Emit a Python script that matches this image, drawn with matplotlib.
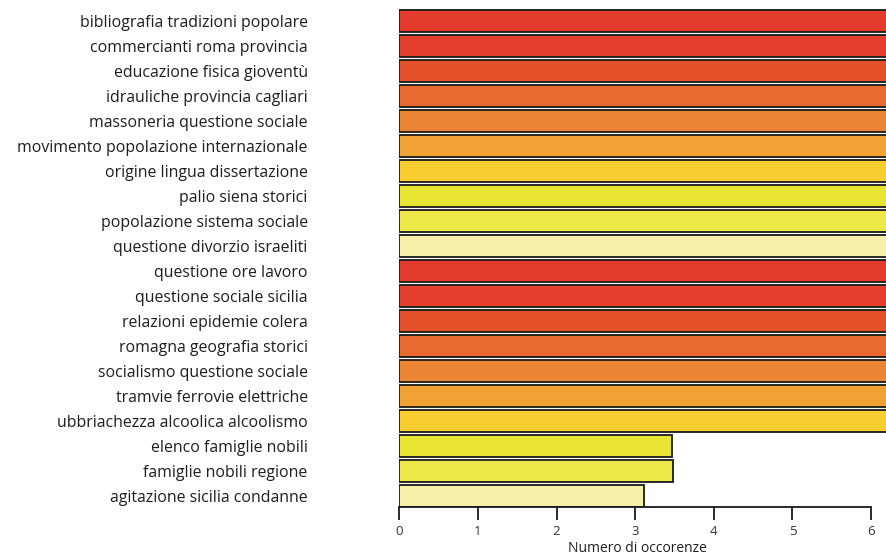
import matplotlib.pyplot as plt

temi = [
    "bibliografia tradizioni popolare",
    "commercianti roma provincia",
    "educazione fisica gioventù",
    "idrauliche provincia cagliari",
    "massoneria questione sociale",
    "movimento popolazione internazionale",
    "origine lingua dissertazione",
    "palio siena storici",
    "popolazione sistema sociale",
    "questione divorzio israeliti",
    "questione ore lavoro",
    "questione sociale sicilia",
    "relazioni epidemie colera",
    "romagna geografia storici",
    "socialismo questione sociale",
    "tramvie ferrovie elettriche",
    "ubbriachezza alcoolica alcoolismo",
    "elenco famiglie nobili",
    "famiglie nobili regione",
    "agitazione sicilia condanne",
]
# the first 17 bars run off the right edge of the picture
occorrenze = [7, 7, 7, 7, 7, 7, 7, 7, 7, 7,
              7, 7, 7, 7, 7, 7, 7, 3.47, 3.48, 3.11]
palette = ["#e33c2c", "#e4402d", "#e5512b", "#e86a31", "#ec8533",
           "#f0a233", "#f7cc30", "#e9e331", "#ede84a", "#f7f0a8"]
xticks = [0, 1, 2, 3, 4, 5, 6]

plt.rcParams['font.family'] = ['Open Sans', 'DejaVu Sans']

fig = plt.figure(figsize=(8.86, 5.55), dpi=100)
ax = fig.add_axes([0.4507, 0.0865, 0.5493, 0.9135])

colori = [palette[i % len(palette)] for i in range(len(temi))]
pos = list(range(len(temi)))
ax.barh(pos, occorrenze, height=0.86, color=colori,
        edgecolor="#1a1a1a", linewidth=1.3)

ax.set_xlim(0, 6.19)
ax.set_ylim(19.43, -0.83)

ax.set_yticks(pos)
ax.set_yticklabels(temi, fontsize=11.4, color="#1e1e1e")
ax.tick_params(axis="y", length=0, pad=66)

ax.set_xticks(xticks)
ax.set_xticklabels([str(t) for t in xticks], fontsize=9.5, color="#333333")
ax.tick_params(axis="x", length=9, width=1.3, color="#1a1a1a", pad=4)

for s in ["top", "right", "left"]:
    ax.spines[s].set_visible(False)
ax.spines["bottom"].set_bounds(0, 6)
ax.spines["bottom"].set_linewidth(1.3)
ax.spines["bottom"].set_color("#1a1a1a")

ax.set_xlabel("Numero di occorenze", fontsize=10, color="#1e1e1e")
ax.xaxis.set_label_coords(0.489, -0.068)

fig.savefig("out.png", dpi=100)
